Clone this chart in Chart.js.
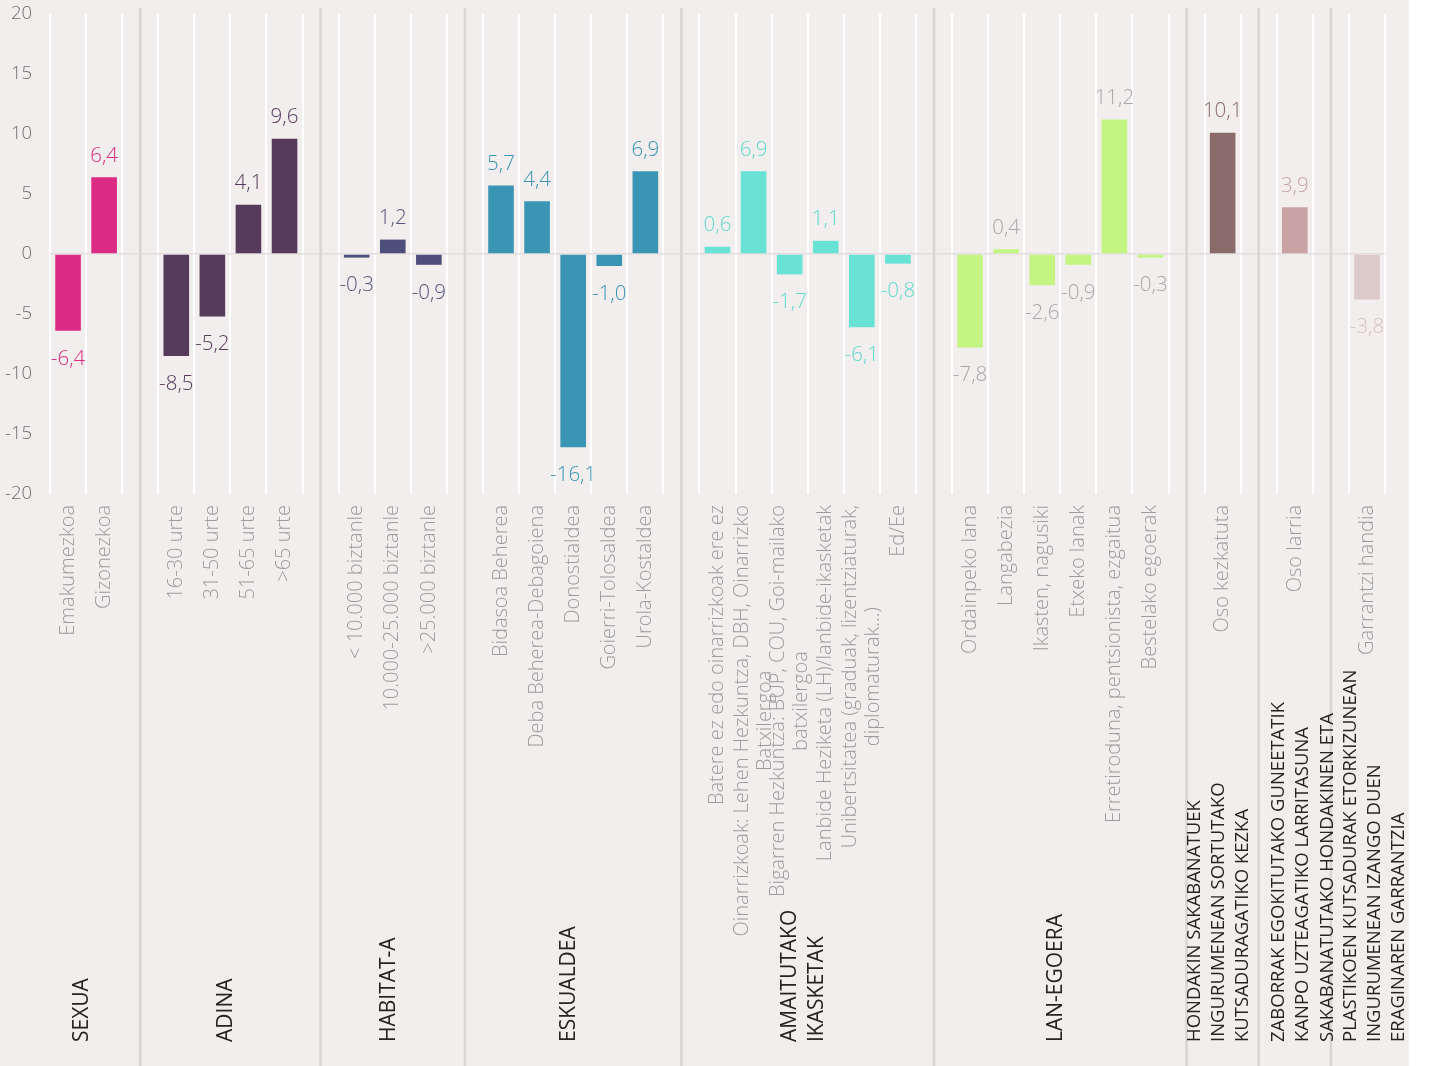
<!DOCTYPE html>
<html>
<head>
<meta charset="utf-8">
<script src="https://cdn.jsdelivr.net/npm/chart.js@4.4.0/dist/chart.umd.min.js"></script>
<style>
  html, body { margin: 0; padding: 0; background: #ffffff; }
  #wrap { width: 1432px; height: 1066px; position: relative; }
  canvas { display: block; }
</style>
</head>
<body>
<div id="wrap"><canvas id="c" width="1432" height="1066"></canvas></div>
<script>
// ---------------- DATA ----------------
const groupTitles = [
  ['SEXUA'],
  ['ADINA'],
  ['HABITAT-A'],
  ['ESKUALDEA'],
  ['AMAITUTAKO', 'IKASKETAK'],
  ['LAN-EGOERA'],
  ['HONDAKIN SAKABANATUEK', 'INGURUMENEAN SORTUTAKO', 'KUTSADURAGATIKO KEZKA'],
  ['ZABORRAK EGOKITUTAKO GUNEETATIK', 'KANPO UZTEAGATIKO LARRITASUNA'],
  ['SAKABANATUTAKO HONDAKINEN ETA', 'PLASTIKOEN KUTSADURAK ETORKIZUNEAN', 'INGURUMENEAN IZANGO DUEN', 'ERAGINAREN GARRANTZIA']
];

const sexuaLabels = ['Emakumezkoa', 'Gizonezkoa'];
const sexuaValues = [-6.4, 6.4];

const adinaLabels = ['16-30 urte', '31-50 urte', '51-65 urte', '>65 urte'];
const adinaValues = [-8.5, -5.2, 4.1, 9.6];

const habitatLabels = ['< 10.000 biztanle', '10.000-25.000 biztanle', '>25.000 biztanle'];
const habitatValues = [-0.3, 1.2, -0.9];

const eskualdeaLabels = ['Bidasoa Beherea', 'Deba Beherea-Debagoiena', 'Donostialdea', 'Goierri-Tolosaldea', 'Urola-Kostaldea'];
const eskualdeaValues = [5.7, 4.4, -16.1, -1.0, 6.9];

const ikasketakLabels = [
  ['Batere ez edo oinarrizkoak ere ez'],
  ['Oinarrizkoak: Lehen Hezkuntza, DBH, Oinarrizko', 'Batxilergoa'],
  ['Bigarren Hezkuntza: BUP, COU, Goi-mailako', 'batxilergoa'],
  ['Lanbide Heziketa (LH)/lanbide-ikasketak'],
  ['Unibertsitatea (graduak, lizentziaturak,', 'diplomaturak...)'],
  ['Ed/Ee']
];
const ikasketakValues = [0.6, 6.9, -1.7, 1.1, -6.1, -0.8];

const lanLabels = ['Ordainpeko lana', 'Langabezia', 'Ikasten, nagusiki', 'Etxeko lanak', 'Erretiroduna, pentsionista, ezgaitua', 'Bestelako egoerak'];
const lanValues = [-7.8, 0.4, -2.6, -0.9, 11.2, -0.3];

const hondakinLabels = ['Oso kezkatuta'];
const hondakinValues = [10.1];

const zaborrakLabels = ['Oso larria'];
const zaborrakValues = [3.9];

const sakabanatuLabels = ['Garrantzi handia'];
const sakabanatuValues = [-3.8];

const yTicks = [20, 15, 10, 5, 0, -5, -10, -15, -20];

// ---------------- STYLE ----------------
const groupStyles = [
  { bar: '#dc2b84', text: '#dc2b84', title: 21 },
  { bar: '#563b5c', text: '#563b5c', title: 21 },
  { bar: '#4e4e7a', text: '#54547c', title: 21 },
  { bar: '#3a95b4', text: '#3a95b4', title: 21 },
  { bar: '#67e2d5', text: '#5fdacd', title: 21 },
  { bar: '#c4f582', text: '#a8a8a8', title: 21 },
  { bar: '#8b6b6a', text: '#8b6b6a', title: 18.5 },
  { bar: '#c9a3a3', text: '#c9a3a3', title: 18.5 },
  { bar: '#dccaca', text: '#d6c3c3', title: 18.5 }
];
const groupLabelSets = [sexuaLabels, adinaLabels, habitatLabels, eskualdeaLabels, ikasketakLabels, lanLabels, hondakinLabels, zaborrakLabels, sakabanatuLabels];
const groupValueSets = [sexuaValues, adinaValues, habitatValues, eskualdeaValues, ikasketakValues, lanValues, hondakinValues, zaborrakValues, sakabanatuValues];

const FONT = '"Open Sans", "Noto Sans", sans-serif';

// Build the flat category list with one empty spacer slot between groups
const labels = [], values = [], barColors = [], textColors = [], spacers = [], spans = [];
groupLabelSets.forEach((set, gi) => {
  if (gi > 0) {
    labels.push('');
    values.push(null);
    barColors.push('rgba(0,0,0,0)');
    textColors.push('rgba(0,0,0,0)');
    spacers.push(labels.length - 1);
  }
  const start = labels.length;
  set.forEach((l, i) => {
    labels.push(Array.isArray(l) ? l : [l]);
    values.push(groupValueSets[gi][i]);
    barColors.push(groupStyles[gi].bar);
    textColors.push(groupStyles[gi].text);
  });
  spans.push({ start: start, end: labels.length - 1, title: groupTitles[gi], size: groupStyles[gi].title });
});

const fmt = v => v.toFixed(1).replace('.', ',');

const backgroundPlugin = {
  id: 'cardBackground',
  beforeDraw(chart) {
    const c = chart.ctx;
    c.save();
    c.fillStyle = '#f1eeed';
    c.fillRect(0, 0, chart.chartArea.right + 24, chart.height);
    c.restore();
  }
};

const separatorPlugin = {
  id: 'groupSeparators',
  beforeDatasetsDraw(chart) {
    const c = chart.ctx, xs = chart.scales.x;
    c.save();
    c.strokeStyle = '#d9d6d5';
    c.lineWidth = 2.6;
    spacers.forEach(idx => {
      const x = xs.getPixelForValue(idx);
      c.beginPath();
      c.moveTo(x, 8);
      c.lineTo(x, chart.height);
      c.stroke();
    });
    c.restore();
  }
};

const textPlugin = {
  id: 'allTexts',
  afterDatasetsDraw(chart) {
    const c = chart.ctx, xs = chart.scales.x;
    const meta = chart.getDatasetMeta(0);
    c.save();
    // value labels
    c.font = '300 20.5px ' + FONT;
    c.textAlign = 'center';
    c.textBaseline = 'middle';
    meta.data.forEach((el, i) => {
      const v = values[i];
      if (v === null) return;
      c.fillStyle = textColors[i];
      const y = v >= 0 ? el.y - 21.5 : el.y + 28;
      c.fillText(fmt(v), el.x, y);
    });
    // category labels (rotated, block top-aligned, lines centered)
    const top = chart.chartArea.bottom + 11;
    c.font = '300 20px ' + FONT;
    c.fillStyle = '#9c9c9c';
    const lh = 23;
    labels.forEach((lines, i) => {
      if (!Array.isArray(lines)) return;
      const cx = xs.getPixelForValue(i);
      const w = Math.max(...lines.map(t => c.measureText(t).width));
      lines.forEach((t, j) => {
        const x = cx + (j - (lines.length - 1) / 2) * lh;
        c.save();
        c.translate(x, top + w / 2);
        c.rotate(-Math.PI / 2);
        c.textAlign = 'center';
        c.fillText(t, 0, 0);
        c.restore();
      });
    });
    // group titles (rotated, bottom-aligned)
    c.fillStyle = '#252423';
    spans.forEach(s => {
      c.font = '400 ' + s.size + 'px ' + FONT;
      const glh = s.size * 1.28;
      const cx = (xs.getPixelForValue(s.start) + xs.getPixelForValue(s.end)) / 2 - 4;
      s.title.forEach((t, j) => {
        const x = cx + (j - (s.title.length - 1) / 2) * glh;
        c.save();
        c.translate(x, chart.height - 24);
        c.rotate(-Math.PI / 2);
        c.textAlign = 'left';
        c.fillText(t, 0, 0);
        c.restore();
      });
    });
    c.restore();
  }
};

new Chart(document.getElementById('c'), {
  type: 'bar',
  data: {
    labels: labels,
    datasets: [{
      data: values,
      backgroundColor: barColors,
      borderWidth: 0,
      categoryPercentage: 1,
      barPercentage: 0.71
    }]
  },
  options: {
    responsive: false,
    animation: false,
    events: [],
    layout: { padding: { top: 14, right: 47, bottom: 572, left: 0 } },
    plugins: { legend: { display: false }, tooltip: { enabled: false } },
    scales: {
      x: {
        type: 'category',
        offset: true,
        grid: { display: true, offset: true, color: '#ffffff', lineWidth: 2, drawTicks: false },
        border: { display: false },
        ticks: { display: false }
      },
      y: {
        min: -20,
        max: 20,
        afterFit(scale) { scale.width = 50; scale.paddingTop = 0; scale.paddingBottom = 0; },
        afterBuildTicks(scale) { scale.ticks = yTicks.map(v => ({ value: v })); },
        grid: {
          drawTicks: false,
          color: ctx => (ctx.tick && ctx.tick.value === 0) ? '#e2dedd' : 'rgba(0,0,0,0)',
          lineWidth: 1.5
        },
        border: { display: false },
        ticks: {
          padding: 18,
          color: '#6f6f6f',
          font: { family: FONT, size: 18.5, weight: 300 },
          callback: v => String(v)
        }
      }
    }
  },
  plugins: [backgroundPlugin, separatorPlugin, textPlugin]
});
</script>
</body>
</html>
